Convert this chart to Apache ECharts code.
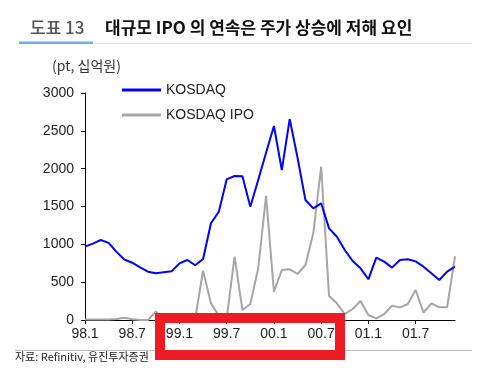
<!DOCTYPE html>
<html><head><meta charset="utf-8">
<script src="https://cdn.jsdelivr.net/npm/echarts@6/dist/echarts.min.js"></script>
<style>html,body{margin:0;padding:0;background:#fff}#c{width:493px;height:378px}</style>
</head><body><div id="c"></div>
<script>
const months = [];
for (let y of ['98','99','00','01']) for (let m = 1; m <= 12; m++) months.push(y + '.' + m);
const kosdaq = [970,1010,1057,1020,900,800,757,696,639,617,630,643,
  749,793,723,806,1278,1431,1859,1903,1900,1497,1850,2210,
  2564,1982,2656,2145,1586,1476,1542,1211,1101,925,780,683,
  538,824,771,692,793,802,775,705,617,529,639,705];
const kosdaqIpo = [5,5,5,8,12,30,10,0,0,115,0,0,
  0,0,20,651,220,60,20,837,132,211,683,1640,
  374,661,670,608,727,1146,2026,317,220,79,145,251,
  66,22,79,189,167,211,396,97,220,167,170,840];
const yTicks = [0,500,1000,1500,2000,2500,3000];

const chart = echarts.init(document.getElementById('c'));
const lblFont = {fontFamily:'Liberation Sans, Arial, sans-serif', fontSize:14, color:'#222'};
chart.setOption({
  animation:false,
  grid:{left:85,right:38,top:93,bottom:58},
  legend:{
    orient:'vertical', left:117, top:78, itemWidth:39, itemHeight:3, itemGap:11,
    icon:'rect',
    textStyle:Object.assign({lineHeight:14}, lblFont),
    data:['KOSDAQ','KOSDAQ IPO']
  },
  xAxis:{
    type:'category', data:months, boundaryGap:false,
    axisLine:{lineStyle:{color:'#000',width:1}},
    axisTick:{alignWithLabel:true, interval:5, length:4, lineStyle:{color:'#000'}},
    axisLabel:Object.assign({interval:5, margin:7}, lblFont),
    splitLine:{show:false}
  },
  yAxis:{
    type:'value', min:0, max:3000, interval:500,
    axisLine:{show:true, lineStyle:{color:'#000',width:1}},
    axisTick:{show:true, length:4, lineStyle:{color:'#000'}},
    axisLabel:Object.assign({margin:11, formatter:(v)=>String(v)}, lblFont),
    splitLine:{show:false}
  },
  series:[
    {name:'KOSDAQ', type:'line', data:kosdaq, showSymbol:false, symbol:'none',
     lineStyle:{color:'#0000ff', width:2}, itemStyle:{color:'#0000ff'}, z:3},
    {name:'KOSDAQ IPO', type:'line', data:kosdaqIpo, showSymbol:false, symbol:'none',
     lineStyle:{color:'#a6a6a6', width:2}, itemStyle:{color:'#a6a6a6'}, z:2}
  ],
  graphic:[
    {type:'text', left:30, top:19, style:{text:'도표 13', font:'500 17px "Noto Sans CJK KR"', fill:'#555'}},
    {type:'text', left:105, top:19, style:{text:'대규모 IPO 의 연속은 주가 상승에 저해 요인', font:'bold 17px "Noto Sans CJK KR"', fill:'#111'}},
    {type:'rect', shape:{x:93,y:43,width:379,height:1}, style:{fill:'#cfe5f8'}},
    {type:'rect', shape:{x:19,y:41.5,width:74,height:2.5}, style:{fill:'#6caef2'}},
    {type:'text', left:52, top:59, style:{text:'(pt, 십억원)', font:'14px "Noto Sans CJK KR"', fill:'#333'}},
    {type:'rect', shape:{x:15,y:350,width:457,height:1}, style:{fill:'#bbb'}},
    {type:'text', left:15, top:351, style:{text:'자료: Refinitiv, 유진투자증권', font:'11px "Noto Sans CJK KR"', fill:'#222'}},
    {type:'rect', z:100, shape:{x:160,y:318,width:180,height:37}, style:{fill:'none', stroke:'#ed1c24', lineWidth:10}}
  ]
});
</script></body></html>
